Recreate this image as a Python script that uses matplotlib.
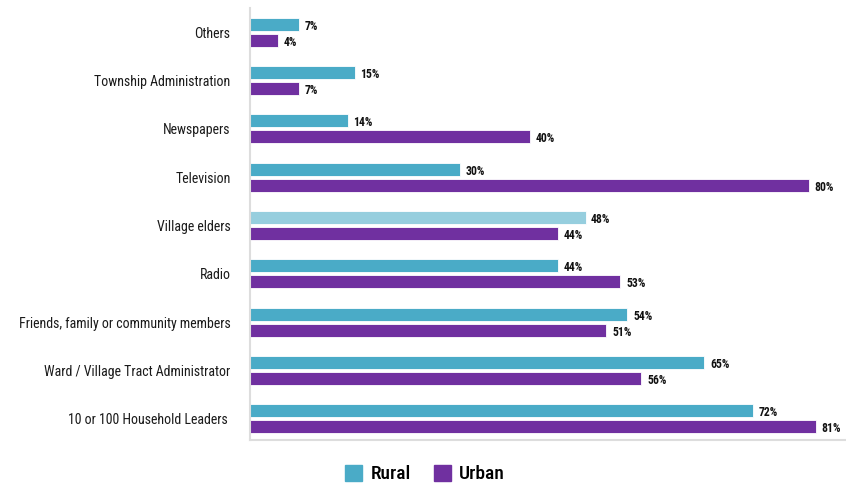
import matplotlib
matplotlib.use("Agg")
import matplotlib.pyplot as plt
import numpy as np

# sources of information, listed bottom to top
sources = [
    "10 or 100 Household Leaders ",
    "Ward / Village Tract Administrator",
    "Friends, family or community members",
    "Radio",
    "Village elders",
    "Television",
    "Newspapers",
    "Township Administration",
    "Others",
]
rural = [72, 65, 54, 44, 48, 30, 14, 15, 7]
urban = [81, 56, 51, 53, 44, 80, 40, 7, 4]
highlight = "Village elders"

RURAL_C = "#4aabc7"
RURAL_HI = "#96cede"
URBAN_C = "#7030a0"

plt.rcParams['font.family'] = ['Roboto Condensed', 'DejaVu Sans Condensed',
                               'Liberation Sans Narrow', 'Roboto']
plt.rcParams['font.stretch'] = 'condensed'

fig = plt.figure(figsize=(8.46, 4.87), dpi=100)
ax = fig.add_axes([250 / 846, 47 / 487, 596 / 846, 432 / 487])

y = np.arange(len(sources))
h = 0.27
off = 0.165
rural_colors = [RURAL_HI if s == highlight else RURAL_C for s in sources]
ax.barh(y + off, rural, height=h, color=rural_colors, edgecolor="white", linewidth=0.6)
ax.barh(y - off, urban, height=h, color=URBAN_C, edgecolor="white", linewidth=0.6)

for yi, r, u in zip(y, rural, urban):
    ax.text(r + 0.8, yi + off - 0.04, f"{r}%", va="center", ha="left",
            fontsize=8.5, fontweight="bold", color="#111111")
    ax.text(u + 0.8, yi - off - 0.04, f"{u}%", va="center", ha="left",
            fontsize=8.5, fontweight="bold", color="#111111")

ax.set_xlim(0, 596 / 6.99)
ax.set_ylim(-0.44, 8.5)
ax.set_yticks(y)
ax.set_yticklabels(sources, fontsize=10, color="#1a1a1a")
ax.tick_params(axis="y", length=0, pad=14)
ax.set_xticks([])

for s in ["top", "right"]:
    ax.spines[s].set_visible(False)
ax.spines["left"].set_color("#dddddd")
ax.spines["bottom"].set_color("#dddddd")
ax.spines["left"].set_linewidth(1.5)
ax.spines["bottom"].set_linewidth(1.5)

handles = [plt.Rectangle((0, 0), 1, 1, color=RURAL_C),
           plt.Rectangle((0, 0), 1, 1, color=URBAN_C)]
fig.legend(handles, ["Rural", "Urban"], loc="center", bbox_to_anchor=(425 / 846, 1 - 474 / 487),
           ncol=2, frameon=False, handlelength=0.9, handleheight=0.9,
           handletextpad=0.4, columnspacing=1.2,
           prop={"size": 14, "weight": "medium"})

fig.savefig("out.png", dpi=100)
